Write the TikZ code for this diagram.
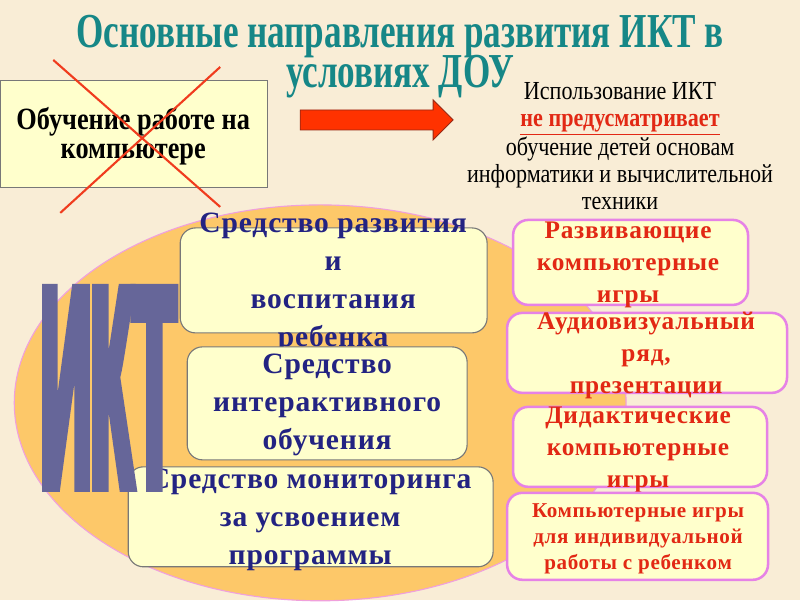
\documentclass[tikz,border=0pt]{standalone}
\usepackage{fontspec}
\setmainfont{Liberation Serif}
\newfontfamily\titlefont[FakeStretch=0.72]{Liberation Serif}
\newfontfamily\narrowfont[FakeStretch=0.85]{Liberation Serif}
\newfontfamily\spacedfont[LetterSpace=3]{Liberation Serif}
\newfontfamily\iktfont[FakeStretch=0.24,BoldFeatures={FakeBold=2.2}]{Liberation Sans}
\definecolor{bgcream}{RGB}{249,237,214}
\definecolor{titleteal}{RGB}{22,135,135}
\definecolor{boxyellow}{RGB}{255,255,204}
\definecolor{boxgray}{RGB}{120,120,120}
\definecolor{navytext}{RGB}{35,35,130}
\definecolor{redtext}{RGB}{226,40,20}
\definecolor{crossred}{RGB}{240,60,30}
\definecolor{arrowred}{RGB}{255,50,0}
\definecolor{arrowedge}{RGB}{150,40,20}
\definecolor{ovalorange}{RGB}{253,200,105}
\definecolor{ovalpink}{RGB}{240,160,220}
\definecolor{pinkline}{RGB}{230,130,230}
\definecolor{iktslate}{RGB}{102,102,153}
\newcommand\pxu{0.025cm}
\begin{document}
\begin{tikzpicture}[x=0.025cm,y=-0.025cm,
    midbox/.style={draw=boxgray,fill=boxyellow,line width=0.8pt,rounded corners=0.38cm},
    gamebox/.style={draw=pinkline,fill=boxyellow,line width=1.8pt,rounded corners=0.38cm},
    midtext/.style={align=center,text=navytext,font=\spacedfont\fontsize{21}{27}\selectfont\bfseries},
    gametext/.style={align=center,text=redtext,font=\spacedfont\fontsize{18}{22.8}\selectfont\bfseries}]
    \fill[bgcream] (0,0) rectangle (800,600);
    \node[align=center,text=titleteal,font=\titlefont\fontsize{34.7}{28.5}\selectfont\bfseries,
        execute at begin node={\lineskiplimit=-100pt\relax}] (title) at (400,57)
        {Основные направления развития ИКТ в\\условиях ДОУ};
    % old approach, crossed out
    \node[draw=boxgray,fill=boxyellow,minimum width=267*\pxu,minimum height=107*\pxu] (oldbox) at (133.5,133.5) {};
    \node[align=center,font=\narrowfont\fontsize{22}{20.6}\selectfont\bfseries] (oldtext) at (133,136) {Обучение работе на\\компьютере};
    \draw[crossred,line width=1.5pt] (53,60) -- (220,207);
    \draw[crossred,line width=1.5pt] (220,67) -- (60,213);
    \draw[draw=arrowedge,fill=arrowred,line width=0.6pt]
        (300,110) -- (433,110) -- (433,100) -- (453,120) -- (433,140) -- (433,130) -- (300,130) -- cycle;
    \node[align=center,font=\narrowfont\fontsize{18.5}{19.2}\selectfont] (note) at (620,146)
        {Использование ИКТ\\{\color{redtext}\bfseries\underline{не предусматривает}}\\обучение детей основам\\информатики и вычислительной\\техники};
    % the ICT oval
    \draw[fill=ovalorange,draw=ovalpink,line width=0.8pt] (320,403) ellipse [x radius=306, y radius=198];
    \node[midbox,minimum width=307*\pxu,minimum height=105*\pxu] (develop) at (333.5,280.5) {};
    \node[midtext] at (333,283) {Средство развития\\и\\воспитания\\ребенка};
    \node[midbox,minimum width=280*\pxu,minimum height=113*\pxu] (interact) at (327,403.5) {};
    \node[midtext] at (327,405) {Средство\\интерактивного\\обучения};
    \node[midbox,minimum width=365*\pxu,minimum height=100*\pxu] (monitor) at (310.5,517) {};
    \node[midtext] at (310,520) {Средство мониторинга\\за усвоением\\программы};
    \node[text=iktslate,inner sep=0pt,font=\iktfont\fontsize{208.6}{210}\selectfont\bfseries] (ikt) at (108,388)
        {И\kern-0.5ptК\kern-0.5ptТ};
    % game boxes
    \node[gamebox,minimum width=235*\pxu,minimum height=85*\pxu] (devgames) at (630.5,262.5) {};
    \node[gametext] at (628,265) {Развивающие\\компьютерные\\игры};
    \node[gamebox,minimum width=280*\pxu,minimum height=80*\pxu] (audio) at (647,353) {};
    \node[gametext] at (646,356) {Аудиовизуальный\\ряд,\\презентации};
    \node[gamebox,minimum width=254*\pxu,minimum height=80*\pxu] (didgames) at (640,447) {};
    \node[gametext] at (638,450) {Дидактические\\компьютерные\\игры};
    \node[gamebox,minimum width=261*\pxu,minimum height=87*\pxu] (indgames) at (637.5,536.5) {};
    \node[gametext,font=\spacedfont\fontsize{15}{18.5}\selectfont\bfseries] at (638,539) {Компьютерные игры\\для индивидуальной\\работы с ребенком};
\end{tikzpicture}
\end{document}
